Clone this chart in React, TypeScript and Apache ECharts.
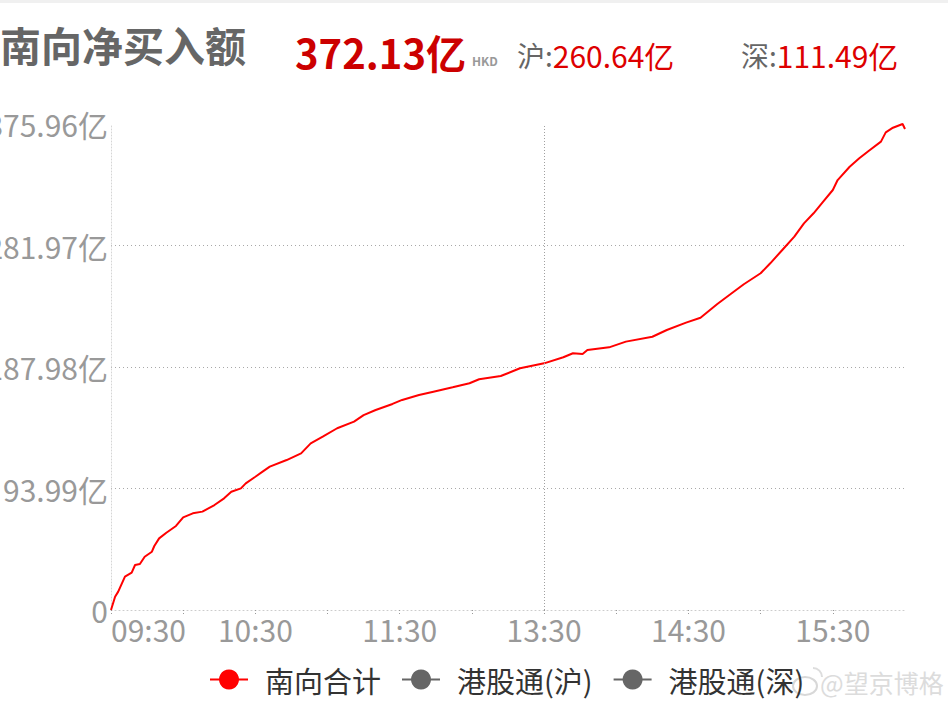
import React, { useEffect, useRef } from "react";
import * as echarts from "echarts";

// minutes since 09:30 with the lunch break collapsed (12:00 == 13:00 == 150)
const minutes = [
  0, 1.7, 3, 5.8, 8.6, 10, 12, 14, 17, 18, 20, 23, 27, 30, 34, 38, 43, 47, 50, 54, 56, 60, 63, 66, 73, 79, 83, 88, 94,
  101, 105, 110, 117, 121, 128, 134, 142, 149, 153, 162, 170, 180, 188, 192, 196, 198, 207, 214, 225, 231, 239, 245,
  252, 257, 263, 270, 274, 279, 284, 288, 292, 296, 300, 302, 307, 311, 315, 320, 322, 325, 329, 330,
];
// cumulative southbound net buy (亿 HKD)
const southTotal = [
  0, 10.3, 14.2, 25.8, 28.9, 34.8, 35.6, 41.2, 45.1, 49.5, 55.4, 59.8, 65, 71.7, 74.8, 76.1, 81.2, 86.4, 91.5, 94.1,
  98, 103.1, 107, 110.9, 116, 121.2, 128.9, 134.1, 140.6, 145.7, 150.8, 154.7, 159.4, 162.5, 166.3, 168.9, 172.3,
  175.4, 178.5, 181, 187, 190.8, 195.5, 198.6, 198, 201.1, 203.2, 207.6, 211.4, 216.6, 222.3, 226.1, 236.7, 243.7,
  252, 260.5, 268.2, 278.5, 288.8, 299.1, 306.9, 315.9, 324.9, 332.6, 342.9, 349.4, 355.3, 362.3, 369.5, 373.1,
  375.96, 372.13,
];
const shData: number[][] = [];
const szData: number[][] = [];

const xTickLabels = ["09:30", "", "10:30", "", "11:30", "", "13:30", "", "14:30", "", "15:30", ""];
const seriesNames = ["南向合计", "港股通(沪)", "港股通(深)"];
const yMax = 375.96;
const yInterval = 93.99;
const totalValue = "372.13亿";
const shValue = "260.64亿";
const szValue = "111.49亿";

const FONT = "'Noto Sans CJK SC', 'Noto Sans', sans-serif";

export default function App() {
  const ref = useRef<HTMLDivElement>(null);
  useEffect(() => {
    if (!ref.current) return;
    const chart = echarts.init(ref.current, null, { renderer: "svg" });
    chart.setOption({
      animation: false,
      textStyle: { fontFamily: FONT },
      grid: { left: 111, right: 43, top: 124, bottom: 92, containLabel: false, outerBoundsMode: "none" },
      legend: {
        left: 204,
        top: 660,
        itemWidth: 38,
        itemHeight: 25,
        itemGap: 20,
        textStyle: { fontSize: 29, color: "#333", fontFamily: FONT, padding: [0, 0, 0, 12] },
        data: seriesNames,
      },
      xAxis: {
        type: "value",
        min: 0,
        max: 330,
        interval: 30,
        axisLine: { show: true, lineStyle: { color: "#cccccc", type: [1, 3], width: 1 } },
        axisTick: { show: true, length: 5, lineStyle: { color: "#999", type: [1, 2] } },
        splitLine: { show: false },
        axisLabel: {
          fontSize: 30,
          color: "#999",
          margin: 4,
          alignMinLabel: "left",
          showMaxLabel: false,
          formatter: (v: number) => xTickLabels[Math.round(v / 30)] ?? "",
        },
      },
      yAxis: {
        type: "value",
        min: 0,
        max: yMax,
        interval: yInterval,
        axisLine: { show: true, lineStyle: { color: "#d5d5d5", type: [1, 2] } },
        axisTick: { show: false },
        axisLabel: {
          fontSize: 30,
          color: "#999",
          margin: 3,
          formatter: (v: number) => (v === 0 ? "0" : v.toFixed(2) + "亿"),
        },
        splitLine: {
          show: true,
          lineStyle: {
            type: [1, 3],
            color: ["rgba(0,0,0,0)", "#a8a8a8", "#a8a8a8", "#a8a8a8", "rgba(0,0,0,0)"],
          },
        },
      },
      series: [
        {
          name: seriesNames[0],
          type: "line",
          data: minutes.map((m, i) => [m, southTotal[i]]),
          showSymbol: false,
          symbol: "circle",
          itemStyle: { color: "#ff0000" },
          lineStyle: { color: "#ff0000", width: 2 },
          markLine: {
            silent: true,
            symbol: "none",
            label: { show: false },
            lineStyle: { color: "#a0a0a0", type: [1, 2], width: 1 },
            data: [{ xAxis: 180 }],
          },
        },
        {
          name: seriesNames[1],
          type: "line",
          data: shData,
          showSymbol: false,
          symbol: "circle",
          itemStyle: { color: "#666666" },
          lineStyle: { color: "#666666", width: 1 },
        },
        {
          name: seriesNames[2],
          type: "line",
          data: szData,
          showSymbol: false,
          symbol: "circle",
          itemStyle: { color: "#666666" },
          lineStyle: { color: "#666666", width: 1 },
        },
      ],
      graphic: [
        { type: "rect", left: 0, top: 0, shape: { width: 948, height: 3 }, style: { fill: "#f0f0f0" } },
        {
          type: "text",
          x: 0,
          y: 44,
          style: { text: "南向净买入额", fontSize: 41, fontWeight: "bold", fill: "#666666", fontFamily: FONT, verticalAlign: "middle" },
        },
        {
          type: "text",
          x: 295,
          y: 52,
          style: { text: totalValue, fontSize: 40, fontWeight: "bold", fill: "#cc0000", fontFamily: FONT, verticalAlign: "middle" },
        },
        {
          type: "text",
          x: 472,
          y: 60,
          style: { text: "HKD", fontSize: 12, fontWeight: "bold", fill: "#999999", fontFamily: FONT, verticalAlign: "middle" },
        },
        {
          type: "text",
          x: 517,
          y: 55,
          style: {
            text: "{a|沪:}{b|" + shValue + "}",
            fontFamily: FONT,
            verticalAlign: "middle",
            rich: {
              a: { fontSize: 28, fill: "#666666", fontFamily: FONT },
              b: { fontSize: 30, fill: "#dd0000", fontFamily: FONT },
            },
          },
        },
        {
          type: "text",
          x: 741,
          y: 55,
          style: {
            text: "{a|深:}{b|" + szValue + "}",
            fontFamily: FONT,
            verticalAlign: "middle",
            rich: {
              a: { fontSize: 28, fill: "#666666", fontFamily: FONT },
              b: { fontSize: 30, fill: "#dd0000", fontFamily: FONT },
            },
          },
        },
        {
          type: "ellipse",
          shape: { cx: 805, cy: 686, rx: 12, ry: 9 },
          style: { fill: "none", stroke: "#d8d8d8", lineWidth: 2 },
        },
        {
          type: "arc",
          shape: { cx: 813, cy: 677, r: 9, startAngle: -Math.PI / 2, endAngle: 0 },
          style: { fill: "none", stroke: "#dddddd", lineWidth: 2 },
        },
        {
          type: "text",
          x: 820,
          y: 682,
          style: {
            text: "@望京博格",
            fontSize: 25,
            fill: "#dcdcdc",
            stroke: "#ffffff",
            lineWidth: 1,
            fontFamily: FONT,
            verticalAlign: "middle",
          },
        },
      ],
    });
    return () => chart.dispose();
  }, []);
  return <div ref={ref} style={{ position: "absolute", left: 0, top: 0, width: 948, height: 702 }} />;
}
